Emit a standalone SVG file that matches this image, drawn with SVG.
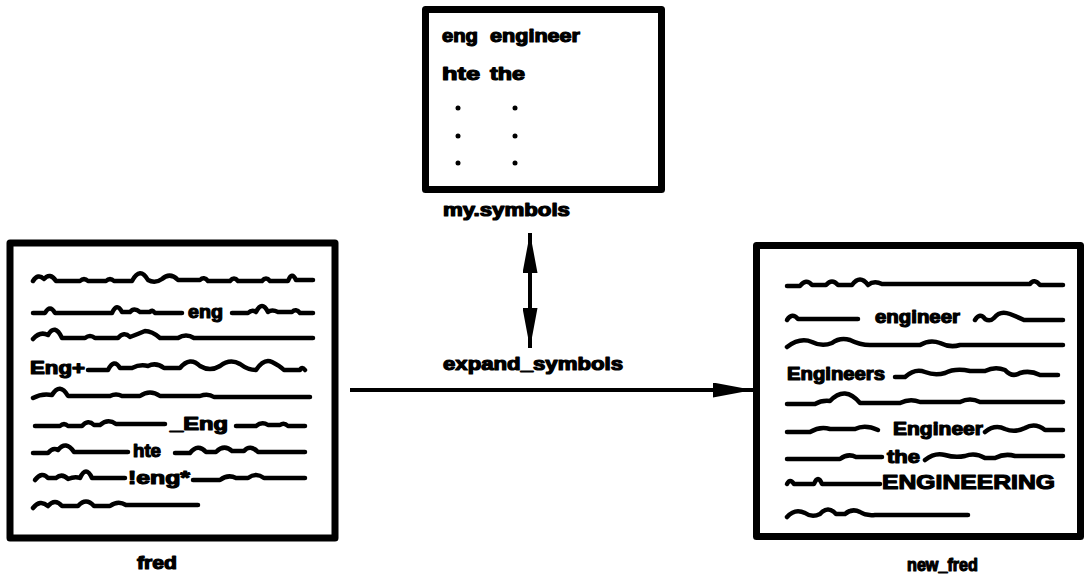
<svg xmlns="http://www.w3.org/2000/svg" width="1087" height="579" viewBox="0 0 1087 579">
<defs>
<style>
.box{fill:#fff;stroke:#000;stroke-width:7;stroke-linejoin:round}
.w{fill:none;stroke:#000;stroke-width:4.5;stroke-linecap:round;stroke-linejoin:round}
.t{font-family:"Liberation Sans",Arial,sans-serif;font-weight:bold;font-size:18px;fill:#000;stroke:#000;stroke-width:1.2;stroke-linejoin:round}
.lb{font-family:"Liberation Sans",Arial,sans-serif;font-weight:bold;font-size:18px;fill:#000;stroke:#000;stroke-width:1.2;stroke-linejoin:round}
.c{fill:none;stroke:#000;stroke-width:4}
</style>
<marker id="ah" viewBox="0 0 40 15" refX="40" refY="7.5" markerWidth="40" markerHeight="15" markerUnits="userSpaceOnUse" orient="auto-start-reverse">
<path d="M0,0 L40,7.5 L0,15 z" fill="#000"/>
</marker>
</defs>
<rect width="1087" height="579" fill="#fff"/>

<g id="my_symbols">
<rect class="box" x="425.5" y="9.5" width="236" height="180"/>
<text class="lb" x="442" y="42" textLength="36" lengthAdjust="spacingAndGlyphs">eng</text>
<text class="lb" x="490" y="42" textLength="90" lengthAdjust="spacingAndGlyphs">engineer</text>
<text class="lb" x="442" y="80" textLength="38" lengthAdjust="spacingAndGlyphs">hte</text>
<text class="lb" x="490" y="80" textLength="35" lengthAdjust="spacingAndGlyphs">the</text>
<g fill="#000">
<circle cx="458" cy="108" r="2.5"/><circle cx="515" cy="108" r="2.5"/>
<circle cx="458" cy="136" r="2.5"/><circle cx="515" cy="136" r="2.5"/>
<circle cx="458" cy="163" r="2.5"/><circle cx="515" cy="163" r="2.5"/>
</g>
<text class="lb" x="443" y="216" textLength="127" lengthAdjust="spacingAndGlyphs">my.symbols</text>
</g>

<g id="fred">
<rect class="box" x="10" y="243" width="325" height="295"/>
<path class="w" d="M33,281 Q38,273 44,279 Q50,272 56,281 H80 Q84,277 88,281 H106 Q110,277 114,281 H132 Q140,266 148,280 Q155,284 162,279 Q170,272 178,280 H200 Q204,276 208,281 H230 Q234,276 238,281 H262 Q266,276 270,281 H288 Q292,271 296,280 H313"/>
<path class="w" d="M33,313 H45 Q50,304 55,313 H112 Q117,302 122,312 H130 Q134,307 140,312 H150 Q152,309 155,313 H182"/>
<text class="t" x="188" y="318" textLength="35" lengthAdjust="spacingAndGlyphs">eng</text>
<path class="w" d="M232,313 H248 Q252,309 256,312 Q262,300 268,312 Q272,309 278,312 H292 Q296,308 300,313 H313"/>
<path class="w" d="M33,339 Q40,331 48,335 Q55,323 62,338 H85 Q90,334 95,338 H118 Q124,331 130,337 Q138,334 145,331 Q152,331 160,338 H178 Q186,333 194,338 H313"/>
<text class="t" x="30" y="374" textLength="55" lengthAdjust="spacingAndGlyphs">Eng+</text>
<path class="w" d="M88,370 H108 Q114,358 120,368 H132 Q140,364 148,366 Q156,362 164,368 H180 Q190,356 200,366 Q210,372 220,366 Q230,358 240,364 Q248,370 256,370 Q264,358 272,362 Q280,366 284,370 H300 Q302,366 305,370"/>
<path class="w" d="M33,398 Q42,393 52,395 Q60,382 68,396 H110 Q116,393 122,396 H140 Q150,389 160,396 H200 Q208,393 214,397 H310"/>
<path class="w" d="M35,426 H60 Q64,422 68,426 H82 Q88,419 94,425 H100 Q108,418 116,424 H165"/>
<text class="t" x="170" y="430" textLength="58" lengthAdjust="spacingAndGlyphs">_Eng</text>
<path class="w" d="M236,426 H256 Q262,421 268,425 H280 Q284,422 288,426 H305"/>
<path class="w" d="M33,453 H48 Q53,447 58,450 Q66,440 74,452 H128"/>
<text class="t" x="133" y="457" textLength="28" lengthAdjust="spacingAndGlyphs">hte</text>
<path class="w" d="M175,453 H190 Q198,443 206,452 H216 Q224,444 232,451 H244 Q250,444 258,452 H305"/>
<path class="w" d="M35,480 Q42,471 48,478 H56 Q62,473 68,479 Q75,476 80,478 Q86,465 92,478 H125"/>
<text class="t" x="128" y="484" textLength="62" lengthAdjust="spacingAndGlyphs">!eng*</text>
<path class="w" d="M193,480 H220 Q228,474 236,478 H248 Q256,472 264,478 H305"/>
<path class="w" d="M33,508 Q40,499 48,506 Q55,498 62,506 H78 Q86,497 94,506 H110 Q118,500 126,505 H198"/>
<text class="lb" x="137" y="569" textLength="40" lengthAdjust="spacingAndGlyphs">fred</text>
</g>

<g id="new_fred">
<rect class="box" x="756.5" y="245.5" width="324" height="291"/>
<path class="w" d="M787,286 H800 Q806,278 812,285 H826 Q832,278 838,285 H852 Q860,274 868,285 Q874,280 882,284 H1030 Q1034,278 1040,285 H1063"/>
<path class="w" d="M787,320 Q792,312 798,319 H858"/>
<text class="t" x="875" y="323" textLength="85" lengthAdjust="spacingAndGlyphs">engineer</text>
<path class="w" d="M975,320 Q980,312 985,319 Q990,322 994,318 Q1000,310 1010,314 Q1020,318 1024,320 H1063"/>
<path class="w" d="M787,347 Q800,337 812,342 Q822,347 832,343 Q840,337 850,340 Q860,345 870,345 H920 Q930,339 940,343 Q950,348 960,345 H1063"/>
<text class="t" x="787" y="380" textLength="98" lengthAdjust="spacingAndGlyphs">Engineers</text>
<path class="w" d="M895,377 H905 Q915,368 925,372 Q935,376 945,373 Q955,368 970,371 H985 Q995,366 1005,370 Q1012,378 1020,373 Q1030,370 1040,375 H1058"/>
<path class="w" d="M787,404 H815 Q822,400 830,401 Q845,385 860,403 H900 Q910,398 920,402 H960 Q970,397 980,402 H1063"/>
<path class="w" d="M787,432 H810 Q820,426 830,429 H855 Q865,424 878,430"/>
<text class="t" x="893" y="435" textLength="90" lengthAdjust="spacingAndGlyphs">Engineer</text>
<path class="w" d="M985,432 Q995,424 1005,429 Q1015,433 1025,428 Q1035,422 1045,430 H1063"/>
<path class="w" d="M787,459 H840 Q848,453 856,457 H882"/>
<text class="t" x="887" y="463" textLength="33" lengthAdjust="spacingAndGlyphs">the</text>
<path class="w" d="M925,460 Q935,452 945,455 Q955,458 965,456 Q975,452 985,458 H995 Q1005,453 1015,456 H1063"/>
<path class="w" d="M787,484 Q790,478 794,484 H814 Q818,474 822,484 H880"/>
<text class="t" x="882" y="489" style="font-size:21px" textLength="173" lengthAdjust="spacingAndGlyphs">ENGINEERING</text>
<path class="w" d="M787,517 Q795,508 805,513 Q812,518 820,514 Q828,505 836,514 H845 Q852,508 860,512 Q866,516 875,515 H968"/>
<text class="lb" x="907" y="571" textLength="71" lengthAdjust="spacingAndGlyphs">new_fred</text>
</g>

<g id="connectors">
<line class="c" x1="530" y1="233" x2="530" y2="348" marker-start="url(#ah)" marker-end="url(#ah)"/>
<line class="c" x1="350" y1="390" x2="753" y2="390" marker-end="url(#ah)"/>
<text class="lb" x="443" y="370" textLength="180" lengthAdjust="spacingAndGlyphs">expand_symbols</text>
</g>
</svg>
